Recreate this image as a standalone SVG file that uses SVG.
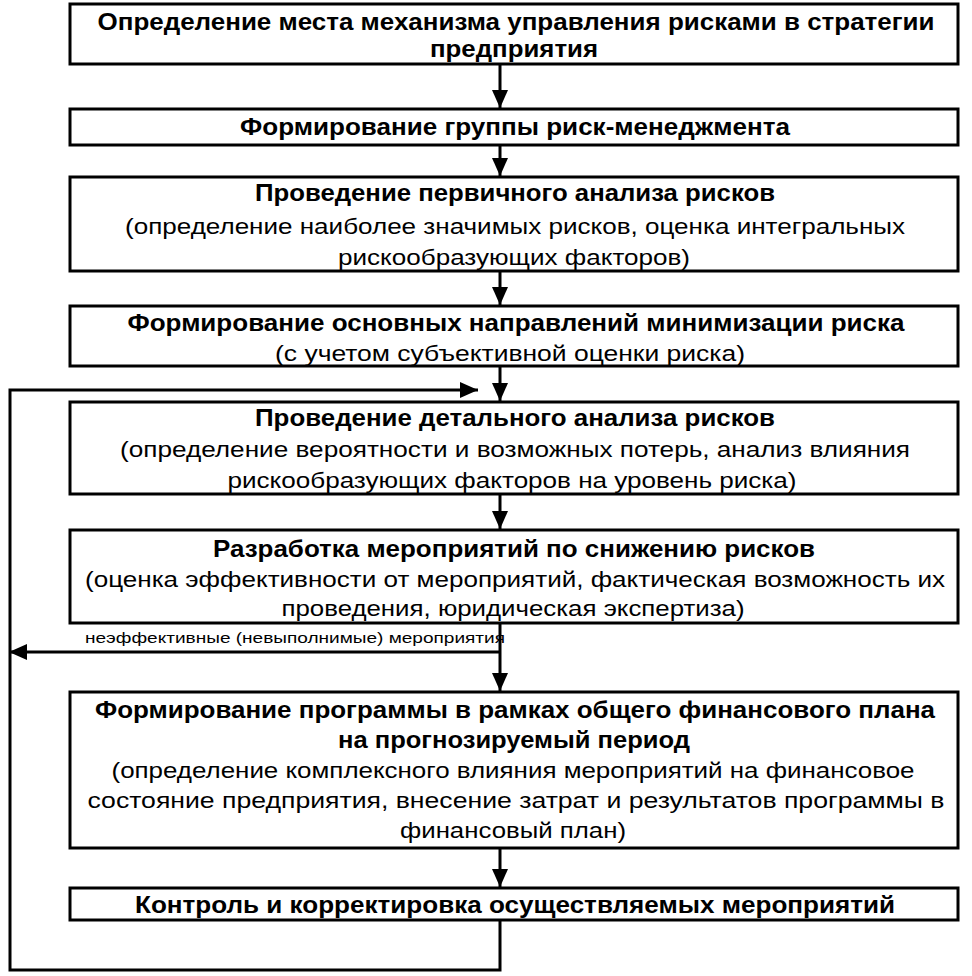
<svg xmlns="http://www.w3.org/2000/svg" width="972" height="976" viewBox="0 0 972 976">
<defs>
<style>
.box{fill:#fff;stroke:#000;stroke-width:3}
.t{font-family:"Liberation Sans",Arial,sans-serif;font-size:23px;font-weight:bold;text-anchor:middle;fill:#000}
.s{font-family:"Liberation Sans",Arial,sans-serif;font-size:22px;text-anchor:middle;fill:#000}
.lbl{font-family:"Liberation Sans",Arial,sans-serif;font-size:15px;fill:#000}
.c{fill:none;stroke:#000;stroke-width:3}
</style>
<marker id="ah" viewBox="0 0 18 16" refX="18" refY="8" markerWidth="18" markerHeight="16" markerUnits="userSpaceOnUse" orient="auto">
<path d="M0,0 L18,8 L0,16 Z" fill="#000"/>
</marker>
</defs>
<rect width="972" height="976" fill="#fff"/>
<g id="connectors">
<line class="c" x1="500" y1="64" x2="500" y2="108" marker-end="url(#ah)"/>
<line class="c" x1="500" y1="145" x2="500" y2="176" marker-end="url(#ah)"/>
<line class="c" x1="500" y1="271" x2="500" y2="305" marker-end="url(#ah)"/>
<line class="c" x1="500" y1="366" x2="500" y2="401" marker-end="url(#ah)"/>
<line class="c" x1="500" y1="494" x2="500" y2="529" marker-end="url(#ah)"/>
<line class="c" x1="500" y1="623" x2="500" y2="691" marker-end="url(#ah)"/>
<line class="c" x1="500" y1="848" x2="500" y2="887" marker-end="url(#ah)"/>
<line class="c" x1="500" y1="652" x2="9" y2="652" marker-end="url(#ah)"/>
<polyline class="c" points="500,920 500,970 10,970 10,390 478,390" marker-end="url(#ah)"/>
<text class="lbl" x="85" y="643" textLength="420" lengthAdjust="spacingAndGlyphs">неэффективные (невыполнимые) мероприятия</text>
</g>
<g id="n1">
<rect class="box" x="70" y="4" width="888" height="60"/>
<text class="t" x="516" y="30" textLength="837" lengthAdjust="spacingAndGlyphs">Определение места механизма управления рисками в стратегии</text>
<text class="t" x="514" y="57" textLength="168" lengthAdjust="spacingAndGlyphs">предприятия</text>
</g>
<g id="n2">
<rect class="box" x="70" y="109" width="888" height="36"/>
<text class="t" x="515" y="135" textLength="550" lengthAdjust="spacingAndGlyphs">Формирование группы риск-менеджмента</text>
</g>
<g id="n3">
<rect class="box" x="70" y="177" width="888" height="94"/>
<text class="t" x="515" y="201" textLength="520" lengthAdjust="spacingAndGlyphs">Проведение первичного анализа рисков</text>
<text class="s" x="515" y="234" textLength="780" lengthAdjust="spacingAndGlyphs">(определение наиболее значимых рисков, оценка интегральных</text>
<text class="s" x="514" y="265" textLength="352" lengthAdjust="spacingAndGlyphs">рискообразующих факторов)</text>
</g>
<g id="n4">
<rect class="box" x="70" y="306" width="888" height="60"/>
<text class="t" x="516" y="331" textLength="777" lengthAdjust="spacingAndGlyphs">Формирование основных направлений минимизации риска</text>
<text class="s" x="510" y="361" textLength="470" lengthAdjust="spacingAndGlyphs">(с учетом субъективной оценки риска)</text>
</g>
<g id="n5">
<rect class="box" x="70" y="402" width="888" height="92"/>
<text class="t" x="515" y="426" textLength="520" lengthAdjust="spacingAndGlyphs">Проведение детального анализа рисков</text>
<text class="s" x="515" y="457" textLength="790" lengthAdjust="spacingAndGlyphs">(определение вероятности и возможных потерь, анализ влияния</text>
<text class="s" x="512" y="488" textLength="569" lengthAdjust="spacingAndGlyphs">рискообразующих факторов на уровень риска)</text>
</g>
<g id="n6">
<rect class="box" x="70" y="530" width="888" height="93"/>
<text class="t" x="514" y="557" textLength="602" lengthAdjust="spacingAndGlyphs">Разработка мероприятий по снижению рисков</text>
<text class="s" x="515" y="587" textLength="860" lengthAdjust="spacingAndGlyphs">(оценка эффективности от мероприятий, фактическая возможность их</text>
<text class="s" x="513" y="616" textLength="463" lengthAdjust="spacingAndGlyphs">проведения, юридическая экспертиза)</text>
</g>
<g id="n7">
<rect class="box" x="70" y="692" width="888" height="156"/>
<text class="t" x="515" y="718" textLength="840" lengthAdjust="spacingAndGlyphs">Формирование программы в рамках общего финансового плана</text>
<text class="t" x="514" y="748" textLength="352" lengthAdjust="spacingAndGlyphs">на прогнозируемый период</text>
<text class="s" x="513" y="778" textLength="803" lengthAdjust="spacingAndGlyphs">(определение комплексного влияния мероприятий на финансовое</text>
<text class="s" x="516" y="808" textLength="857" lengthAdjust="spacingAndGlyphs">состояние предприятия, внесение затрат и результатов программы в</text>
<text class="s" x="513" y="838" textLength="226" lengthAdjust="spacingAndGlyphs">финансовый план)</text>
</g>
<g id="n8">
<rect class="box" x="70" y="888" width="888" height="32"/>
<text class="t" x="515" y="913" textLength="760" lengthAdjust="spacingAndGlyphs">Контроль и корректировка осуществляемых мероприятий</text>
</g>
</svg>
